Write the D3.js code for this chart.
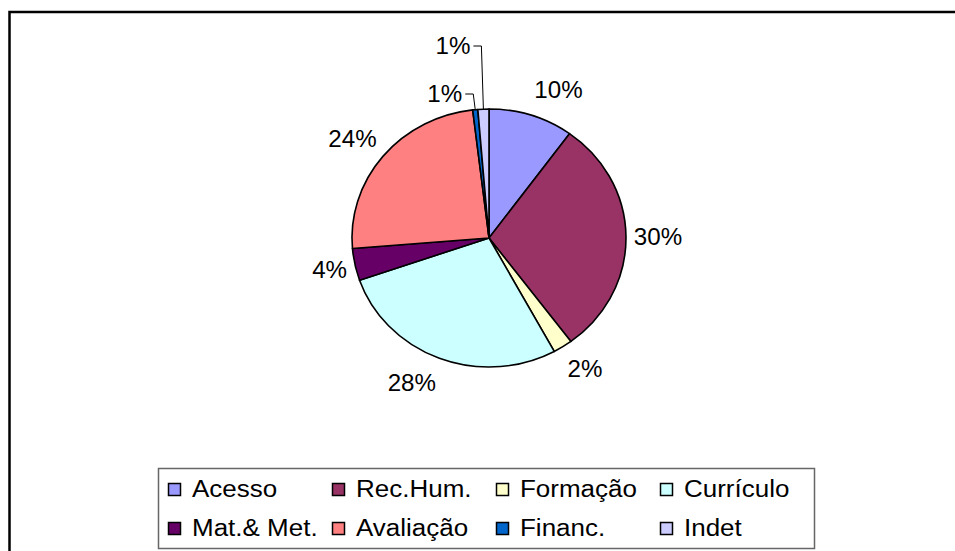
<!DOCTYPE html>
<html>
<head>
<meta charset="utf-8">
<script src="https://cdn.jsdelivr.net/npm/d3@7"></script>
<style>
  html, body { margin: 0; padding: 0; background: #fff; }
  svg { display: block; }
  text { font-family: "Liberation Sans", Arial, sans-serif; fill: #000; }
</style>
</head>
<body>
<svg id="chart" width="955" height="551"></svg>
<script>
// ---- data ----
const categories = ["Acesso", "Rec.Hum.", "Formação", "Currículo", "Mat.& Met.", "Avaliação", "Financ.", "Indet"];
const values = [10.0, 29.8, 2.3, 27.6, 4.0, 24.4, 0.6, 1.3];
const colors = ["#9999FF", "#993366", "#FFFFCC", "#CCFFFF", "#660066", "#FF8080", "#0066CC", "#CCCCFF"];
const legendRows = [[0, 1, 2, 3], [4, 5, 6, 7]];

// ---- layout ----
const W = 955, H = 551;
const cx = 489, cy = 238, rx = 137, ry = 129;
const svg = d3.select("#chart");

// outer frame (extends past the right and bottom edges)
svg.append("rect")
  .attr("x", 9.5).attr("y", 12)
  .attr("width", W + 20).attr("height", H + 20)
  .attr("fill", "none").attr("stroke", "#000").attr("stroke-width", 2.5);

const data = categories.map((c, i) => ({ cat: c, value: values[i], color: colors[i] }));
const pie = d3.pie().value(d => d.value).sort(null);
const arcs = pie(data);
const arc = d3.arc().innerRadius(0).outerRadius(rx);

const g = svg.append("g").attr("transform", `translate(${cx},${cy}) scale(1,${ry / rx})`);
g.selectAll("path").data(arcs).join("path")
  .attr("d", arc)
  .attr("fill", d => d.data.color)
  .attr("stroke", "#000")
  .attr("stroke-width", 1.6)
  .attr("vector-effect", "non-scaling-stroke")
  .attr("stroke-linejoin", "round");

// labels
const fs = 23, sx = 1.05;
const fmt = v => Math.round(v) + "%";
const labelG = svg.append("g");
let smallIdx = 0;
arcs.forEach(d => {
  const a = (d.startAngle + d.endAngle) / 2;
  const s = Math.sin(a), c = Math.cos(a);
  const txt = fmt(d.data.value);
  const w = txt.length === 2 ? 37 : 50, h = 20;
  if (d.data.value < 1.5) {
    // small slice: label placed above, with a leader line
    const ex = cx + rx * s, ey = cy - ry * c;
    const ly = cy - ry - 15 - 48 * smallIdx;
    const lx = ex - 13;
    labelG.append("text")
      .attr("transform", `translate(${lx},${ly + 8}) scale(${sx},1)`)
      .attr("text-anchor", "end")
      .attr("font-size", fs)
      .text(txt);
    labelG.append("path")
      .attr("d", d3.line()([[lx + 3, ly], [ex - 2, ly], [ex, ey]]))
      .attr("fill", "none").attr("stroke", "#000").attr("stroke-width", 1);
    smallIdx++;
  } else {
    const px = cx + (rx + 7) * s + Math.sign(s) * w / 2;
    const py = cy - (ry + 17) * c - c * h / 2;
    labelG.append("text")
      .attr("transform", `translate(${px},${py + 8}) scale(${sx},1)`)
      .attr("text-anchor", "middle")
      .attr("font-size", fs)
      .text(txt);
  }
});

// legend
const lg = svg.append("g");
lg.append("rect")
  .attr("x", 158.5).attr("y", 468.5).attr("width", 656).attr("height", 80)
  .attr("fill", "#fff").attr("stroke", "#666").attr("stroke-width", 1.5);
const colX = d3.scaleLinear().domain([0, 1]).range([168, 332]);
const rowY = d3.scaleLinear().domain([0, 1]).range([489.5, 528.5]);
legendRows.forEach((row, r) => {
  row.forEach((idx, ci) => {
    const x = colX(ci), y = rowY(r);
    lg.append("rect")
      .attr("x", x + 0.5).attr("y", y - 6)
      .attr("width", 12).attr("height", 12)
      .attr("fill", colors[idx]).attr("stroke", "#000").attr("stroke-width", 1.5);
    lg.append("text")
      .attr("transform", `translate(${x + 24},${y + 7.5}) scale(1.13,1)`)
      .attr("font-size", 23)
      .text(categories[idx]);
  });
});
</script>
</body>
</html>
